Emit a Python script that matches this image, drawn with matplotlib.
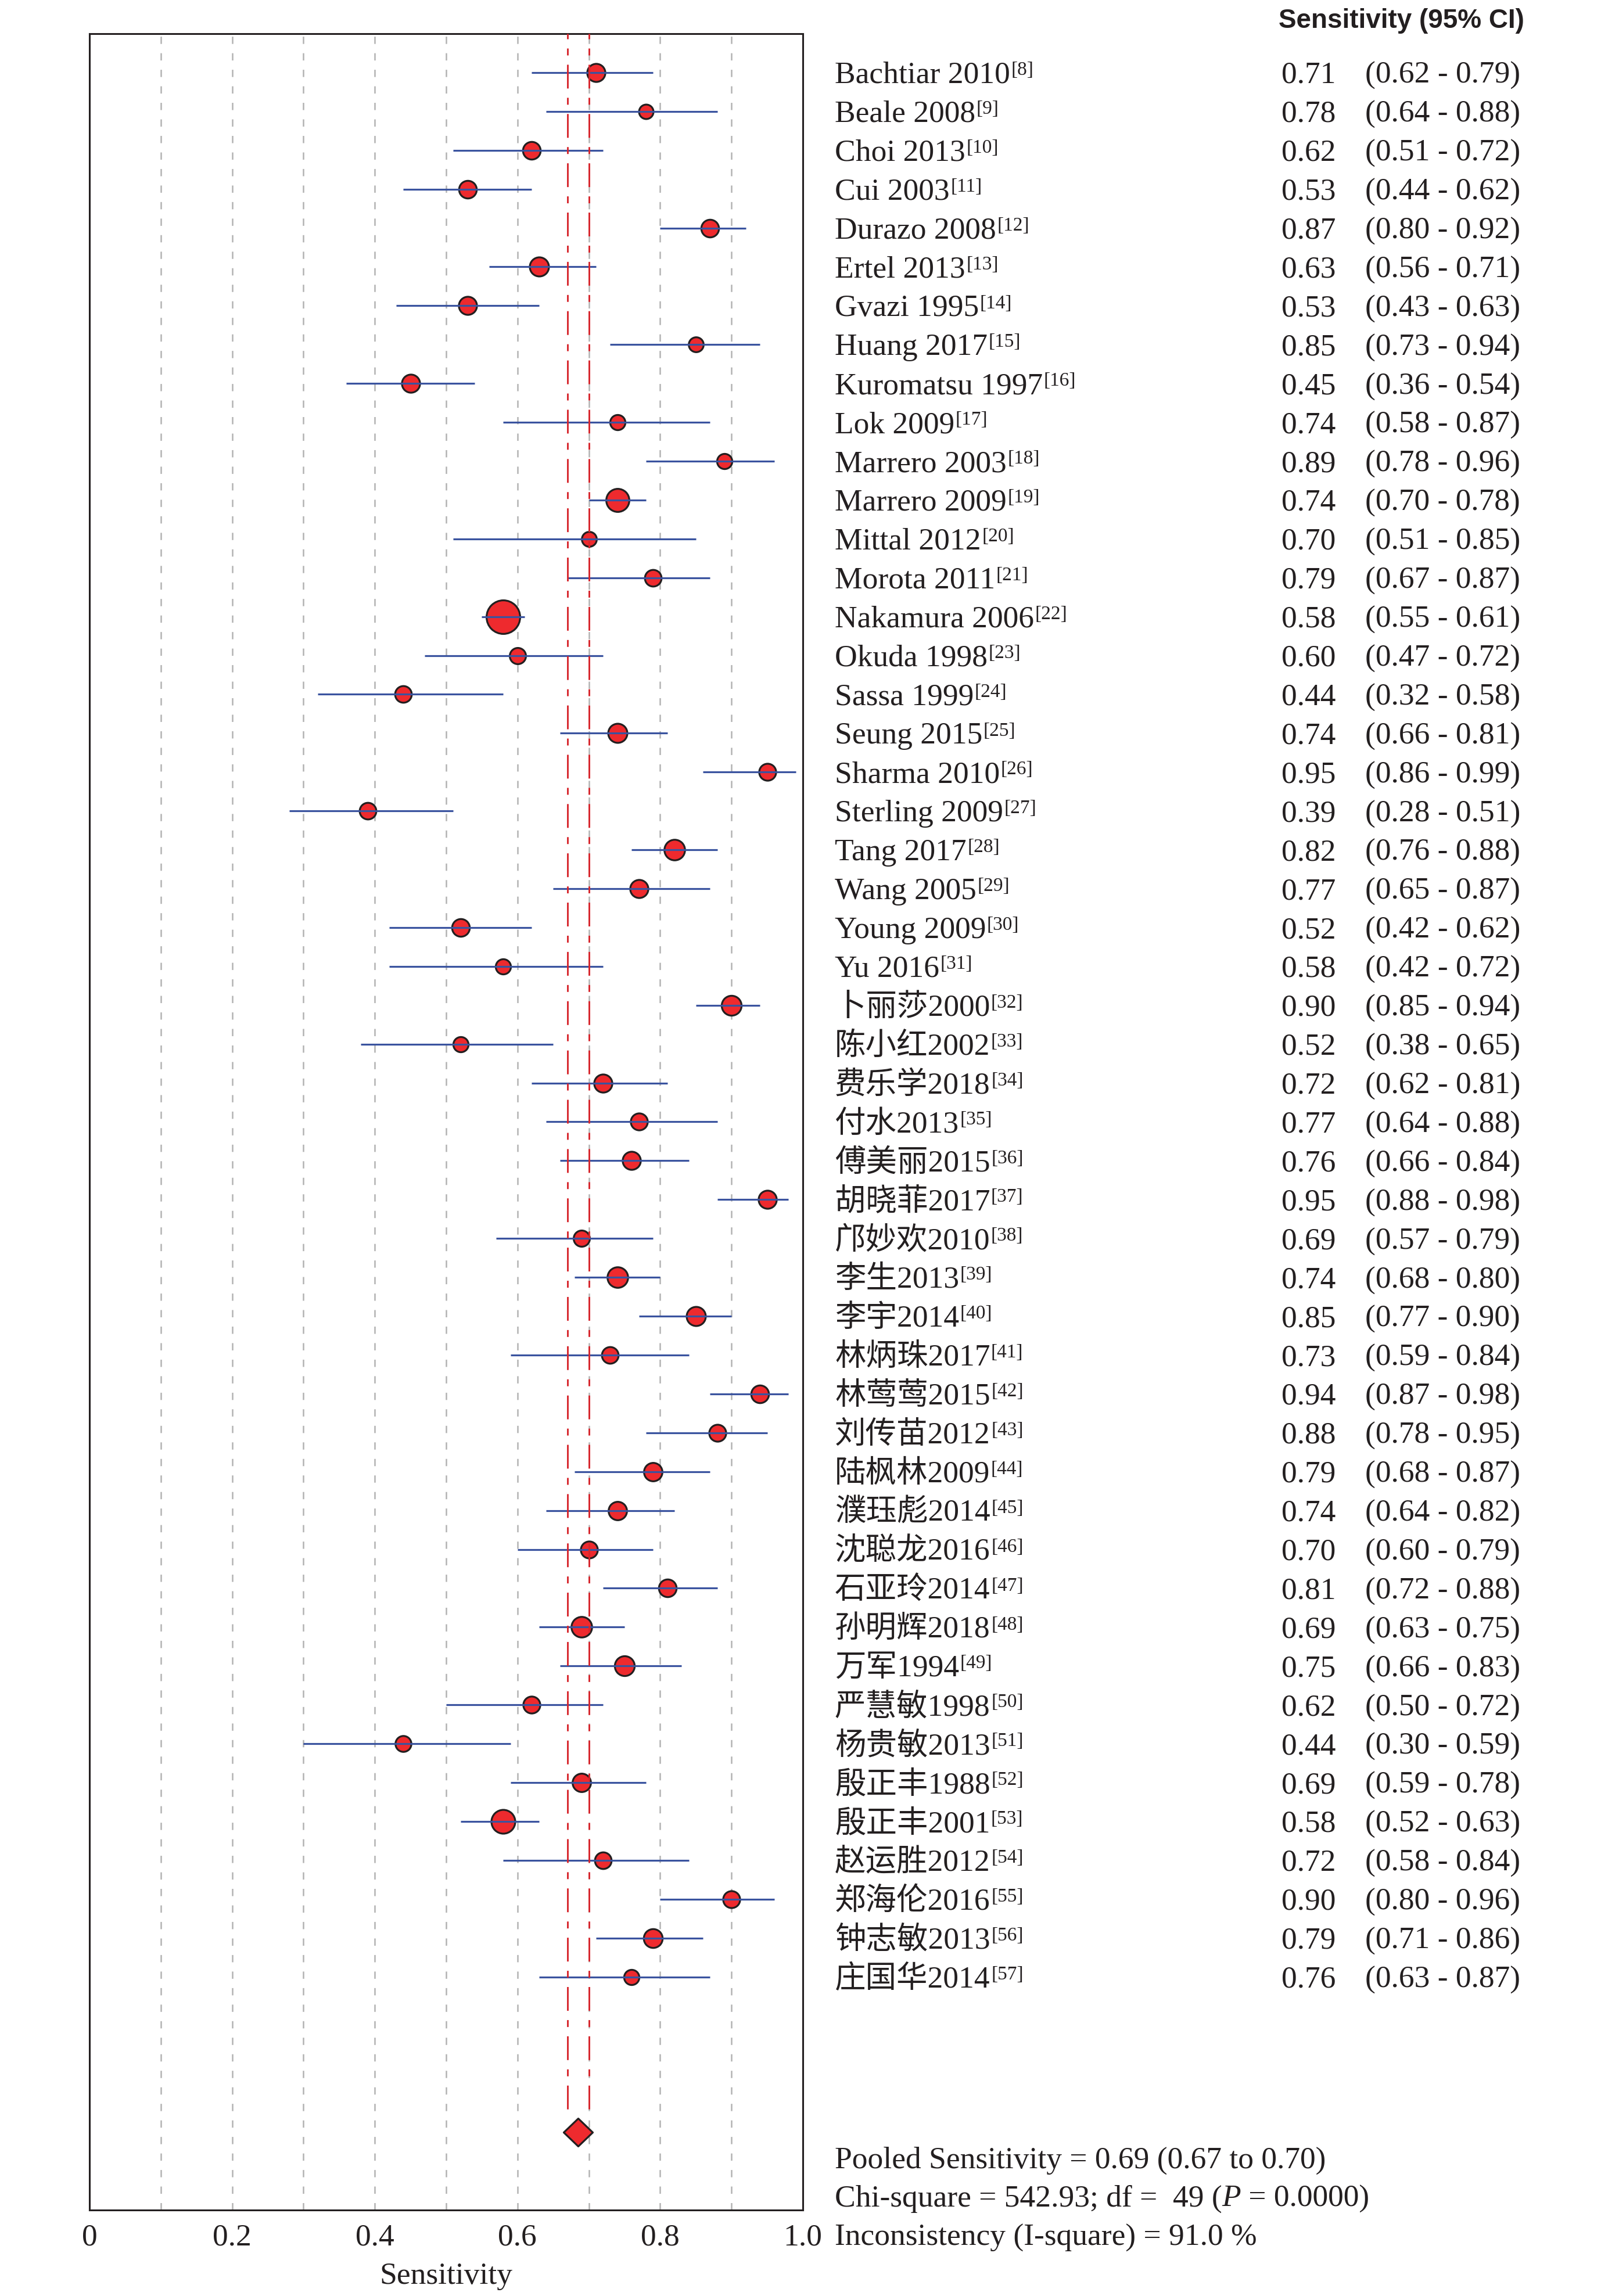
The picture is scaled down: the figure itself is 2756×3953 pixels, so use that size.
import matplotlib
matplotlib.use("Agg")
import matplotlib.pyplot as plt
import matplotlib.transforms as mtransforms
from matplotlib import font_manager
from matplotlib.path import Path

# ---- data ----
studies = [
    "Bachtiar 2010", "Beale 2008", "Choi 2013", "Cui 2003", "Durazo 2008",
    "Ertel 2013", "Gvazi 1995", "Huang 2017", "Kuromatsu 1997", "Lok 2009",
    "Marrero 2003", "Marrero 2009", "Mittal 2012", "Morota 2011", "Nakamura 2006",
    "Okuda 1998", "Sassa 1999", "Seung 2015", "Sharma 2010", "Sterling 2009",
    "Tang 2017", "Wang 2005", "Young 2009", "Yu 2016", "卜丽莎2000",
    "陈小红2002", "费乐学2018", "付水2013", "傅美丽2015", "胡晓菲2017",
    "邝妙欢2010", "李生2013", "李宇2014", "林炳珠2017", "林莺莺2015",
    "刘传苗2012", "陆枫林2009", "濮珏彪2014", "沈聪龙2016", "石亚玲2014",
    "孙明辉2018", "万军1994", "严慧敏1998", "杨贵敏2013", "殷正丰1988",
    "殷正丰2001", "赵运胜2012", "郑海伦2016", "钟志敏2013", "庄国华2014",
]
refs = list(range(8, 58))
sens = [
    0.71, 0.78, 0.62, 0.53, 0.87, 0.63, 0.53, 0.85, 0.45, 0.74,
    0.89, 0.74, 0.70, 0.79, 0.58, 0.60, 0.44, 0.74, 0.95, 0.39,
    0.82, 0.77, 0.52, 0.58, 0.90, 0.52, 0.72, 0.77, 0.76, 0.95,
    0.69, 0.74, 0.85, 0.73, 0.94, 0.88, 0.79, 0.74, 0.70, 0.81,
    0.69, 0.75, 0.62, 0.44, 0.69, 0.58, 0.72, 0.90, 0.79, 0.76,
]
ci_low = [
    0.62, 0.64, 0.51, 0.44, 0.80, 0.56, 0.43, 0.73, 0.36, 0.58,
    0.78, 0.70, 0.51, 0.67, 0.55, 0.47, 0.32, 0.66, 0.86, 0.28,
    0.76, 0.65, 0.42, 0.42, 0.85, 0.38, 0.62, 0.64, 0.66, 0.88,
    0.57, 0.68, 0.77, 0.59, 0.87, 0.78, 0.68, 0.64, 0.60, 0.72,
    0.63, 0.66, 0.50, 0.30, 0.59, 0.52, 0.58, 0.80, 0.71, 0.63,
]
ci_high = [
    0.79, 0.88, 0.72, 0.62, 0.92, 0.71, 0.63, 0.94, 0.54, 0.87,
    0.96, 0.78, 0.85, 0.87, 0.61, 0.72, 0.58, 0.81, 0.99, 0.51,
    0.88, 0.87, 0.62, 0.72, 0.94, 0.65, 0.81, 0.88, 0.84, 0.98,
    0.79, 0.80, 0.90, 0.84, 0.98, 0.95, 0.87, 0.82, 0.79, 0.88,
    0.75, 0.83, 0.72, 0.59, 0.78, 0.63, 0.84, 0.96, 0.86, 0.87,
]
# relative study weight (marker size)
rel_weight = [
    1.36, 1.11, 1.33, 1.33, 1.33, 1.43, 1.36, 1.14, 1.36, 1.16,
    1.16, 1.70, 1.14, 1.26, 2.42, 1.23, 1.26, 1.43, 1.28, 1.26,
    1.53, 1.36, 1.33, 1.16, 1.48, 1.16, 1.36, 1.28, 1.36, 1.36,
    1.23, 1.53, 1.43, 1.26, 1.33, 1.28, 1.38, 1.38, 1.28, 1.33,
    1.53, 1.48, 1.28, 1.21, 1.38, 1.75, 1.26, 1.28, 1.41, 1.16,
]

pooled = 0.69
pooled_low = 0.67
pooled_high = 0.70
chi_square = 542.93
dof = 49
p_value = 0.0
i_square = 91.0

# ---- style ----
plt.rcParams["lines.scale_dashes"] = False
SERIF = ["Liberation Serif", "Noto Sans CJK SC", "DejaVu Sans"]
plt.rcParams["font.family"] = SERIF
FS = 38.5
FILL = "#ee2a2e"
EDGE = "#231f20"
BLUE = "#3a539f"
RED = "#d7262d"
GRID = "#b3b3b3"


def has_font(name):
    try:
        font_manager.findfont(font_manager.FontProperties(family=name),
                              fallback_to_default=False)
        return True
    except ValueError:
        return False


W, H = 2756, 3953
fig = plt.figure(figsize=(W / 100, H / 100), dpi=100)
ax = fig.add_axes([154 / W, 1 - 3805 / H, 1228 / W, 3747 / H])

n = len(studies)
rows = list(range(1, n + 1))
diamond_row = n + 4
ax.set_xlim(0, 1)
ax.set_ylim(n + 6, 0)

# gray dashed grid
for gx in [0.1, 0.2, 0.3, 0.4, 0.5, 0.6, 0.7, 0.8, 0.9]:
    ax.axvline(gx, color=GRID, lw=1.8, ls=(0, (9, 11.5)), zorder=1)

# study markers and confidence intervals
for i in range(n):
    ax.plot(sens[i], rows[i], "o", ms=18.1 * rel_weight[i] - 2.2,
            mfc=FILL, mec=EDGE, mew=2.3, zorder=3)
ax.hlines(rows, ci_low, ci_high, color=BLUE, lw=2.3, zorder=4)

# pooled CI lines (dash-dot style)
dtop = diamond_row - 0.38
for px in [pooled_low, pooled_high]:
    ax.plot([px, px], [0, dtop], color=RED, lw=2.1,
            ls=(23, (29.5, 11.5, 8.6, 11.5)), zorder=5)

# pooled diamond
diamond = Path([(-1, 0), (0, 0.96), (1, 0), (0, -0.96), (-1, 0)],
               [Path.MOVETO, Path.LINETO, Path.LINETO, Path.LINETO, Path.CLOSEPOLY])
ax.plot((pooled_low + pooled_high) / 2, diamond_row, marker=diamond, ms=36,
        mfc=FILL, mec=EDGE, mew=2.3, zorder=6)

for side in ["top", "bottom", "left", "right"]:
    ax.spines[side].set_linewidth(2.2)
    ax.spines[side].set_color(EDGE)

ax.set_yticks([])
ax.set_xticks([0, 0.2, 0.4, 0.6, 0.8, 1.0])
ax.set_xticklabels(["0", "0.2", "0.4", "0.6", "0.8", "1.0"])
ax.tick_params(axis="x", length=0, pad=17, labelsize=FS, labelcolor=EDGE)
ax.set_xlabel("Sensitivity", fontsize=FS, labelpad=13, color=EDGE)

# ---- right-hand text columns ----
tr = mtransforms.blended_transform_factory(fig.transFigure, ax.transData)
name_x = 1437 / W
val_x = 2206 / W
ci_x = 2350 / W
base = 0.27

for i in range(n):
    y = rows[i] + base
    t = ax.text(name_x, y, studies[i], transform=tr, fontsize=FS,
                va="baseline", ha="left", color=EDGE, clip_on=False)
    ax.annotate(f"[{refs[i]}]", xy=(1, y), xycoords=(t, tr),
                xytext=(1, 10), textcoords="offset points",
                fontsize=24, va="baseline", ha="left", color=EDGE)
    ax.text(val_x, y, f"{sens[i]:.2f}", transform=tr, fontsize=FS,
            va="baseline", ha="left", color=EDGE)
    ax.text(ci_x, y, f"({ci_low[i]:.2f} - {ci_high[i]:.2f})", transform=tr,
            fontsize=FS, va="baseline", ha="left", color=EDGE)

if has_font("Liberation Sans Narrow"):
    hfam, hfs = "Liberation Sans Narrow", 40
else:
    hfam, hfs = "Liberation Sans", 33
fig.text(2201 / W, 1 - 48 / H, "Sensitivity (95% CI)", family=hfam,
         weight="bold", fontsize=hfs, va="baseline", ha="left", color=EDGE)

# pooled statistics
ax.text(name_x, diamond_row + 0.92,
        f"Pooled Sensitivity = {pooled:.2f} ({pooled_low:.2f} to {pooled_high:.2f})",
        transform=tr, fontsize=FS, va="baseline", ha="left", color=EDGE)
y2 = diamond_row + 1.9
t1 = ax.text(name_x, y2, f"Chi-square = {chi_square:.2f}; df =  {dof} (",
             transform=tr, fontsize=FS, va="baseline", ha="left", color=EDGE)
t2 = ax.annotate("P", xy=(1, y2), xycoords=(t1, tr), fontsize=FS,
                 style="italic", va="baseline", ha="left", color=EDGE)
ax.annotate(f" = {p_value:.4f})", xy=(1, y2), xycoords=(t2, tr), fontsize=FS,
            va="baseline", ha="left", color=EDGE)
ax.text(name_x, diamond_row + 2.9,
        f"Inconsistency (I-square) = {i_square:.1f} %",
        transform=tr, fontsize=FS, va="baseline", ha="left", color=EDGE)

fig.savefig("out.png", dpi=100)
